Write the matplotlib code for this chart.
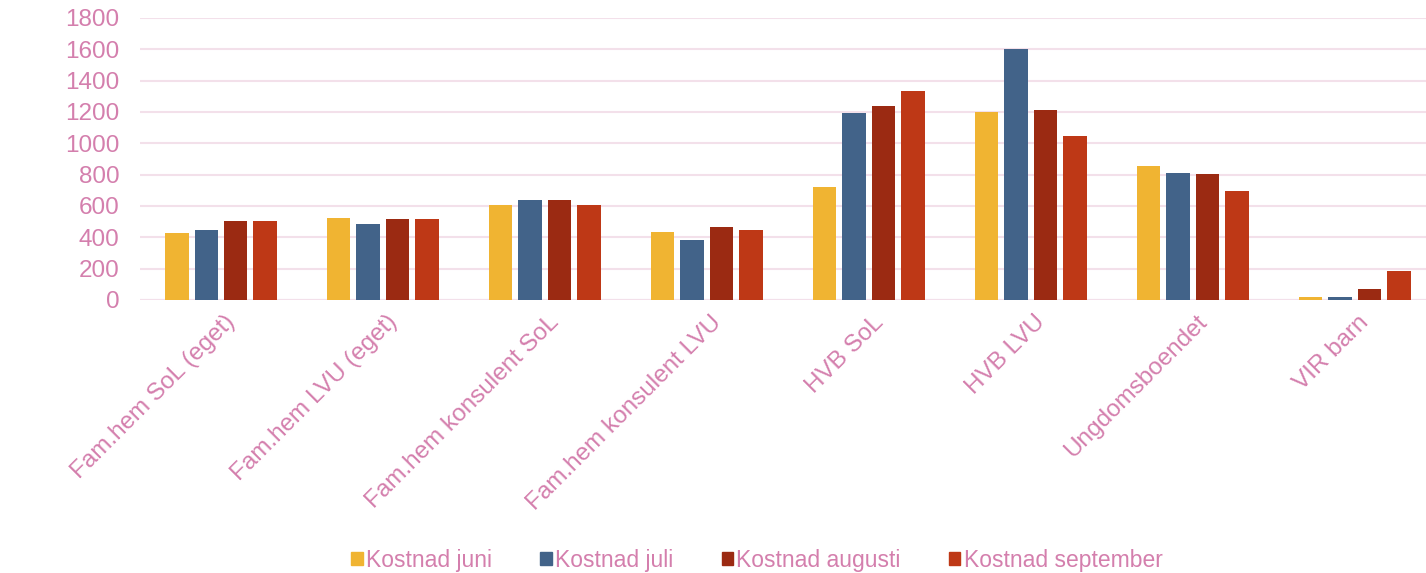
import numpy as np
import matplotlib.pyplot as plt
from matplotlib.patches import Patch

categories = ["Fam.hem SoL (eget)", "Fam.hem LVU (eget)", "Fam.hem konsulent SoL",
              "Fam.hem konsulent LVU", "HVB SoL", "HVB LVU", "Ungdomsboendet", "VIR barn"]
series_names = ["Kostnad juni", "Kostnad juli", "Kostnad augusti", "Kostnad september"]
juni = [430, 524, 607, 433, 724, 1197, 853, 21]
juli = [448, 482, 637, 386, 1195, 1601, 809, 21]
augusti = [505, 518, 637, 465, 1236, 1210, 803, 72]
september = [505, 518, 605, 450, 1331, 1048, 696, 187]
yticks = [0, 200, 400, 600, 800, 1000, 1200, 1400, 1600, 1800]

colors = ["#F0B432", "#426389", "#9B2A12", "#BE3816"]
txt = "#D47FAD"
grid = "#F3E0EA"

plt.rcParams['font.family'] = ['Liberation Sans', 'DejaVu Sans']

fig = plt.figure(figsize=(14.26, 5.73), dpi=100)
ax = fig.add_axes([140/1426, 1 - 300/573, 1 - 140/1426, 282/573])

x = np.arange(len(categories))
width = 0.145
pitch = 0.182
for i, (vals, c) in enumerate(zip([juni, juli, augusti, september], colors)):
    ax.bar(x + (i - 1.5) * pitch, vals, width, color=c, zorder=3)

ax.set_xlim(-0.5, 7.44)
ax.set_ylim(0, 1800)
ax.set_yticks(yticks)
ax.set_yticklabels([str(v) for v in yticks], color=txt, fontsize=17.5)
ax.yaxis.grid(True, color=grid, linewidth=1.5, zorder=0)
ax.tick_params(axis='y', length=0, pad=15)
ax.tick_params(axis='x', length=0, pad=8)
ax.set_xticks(x + 0.02)
ax.set_xticklabels(categories, rotation=45, ha='right', rotation_mode='anchor',
                   color=txt, fontsize=17.5)
for s in ax.spines.values():
    s.set_visible(False)
ax.axhline(0, color=grid, linewidth=1.5, zorder=1)

handles = [Patch(color=c) for c in colors]
fig.legend(handles, series_names, loc='center', bbox_to_anchor=(757/1426, 1 - 560/573),
           ncol=4, frameon=False, fontsize=16.5, labelcolor=txt,
           handlelength=0.5, handleheight=0.5, handletextpad=0.15, columnspacing=2.1)

fig.savefig("out.png", dpi=100)
